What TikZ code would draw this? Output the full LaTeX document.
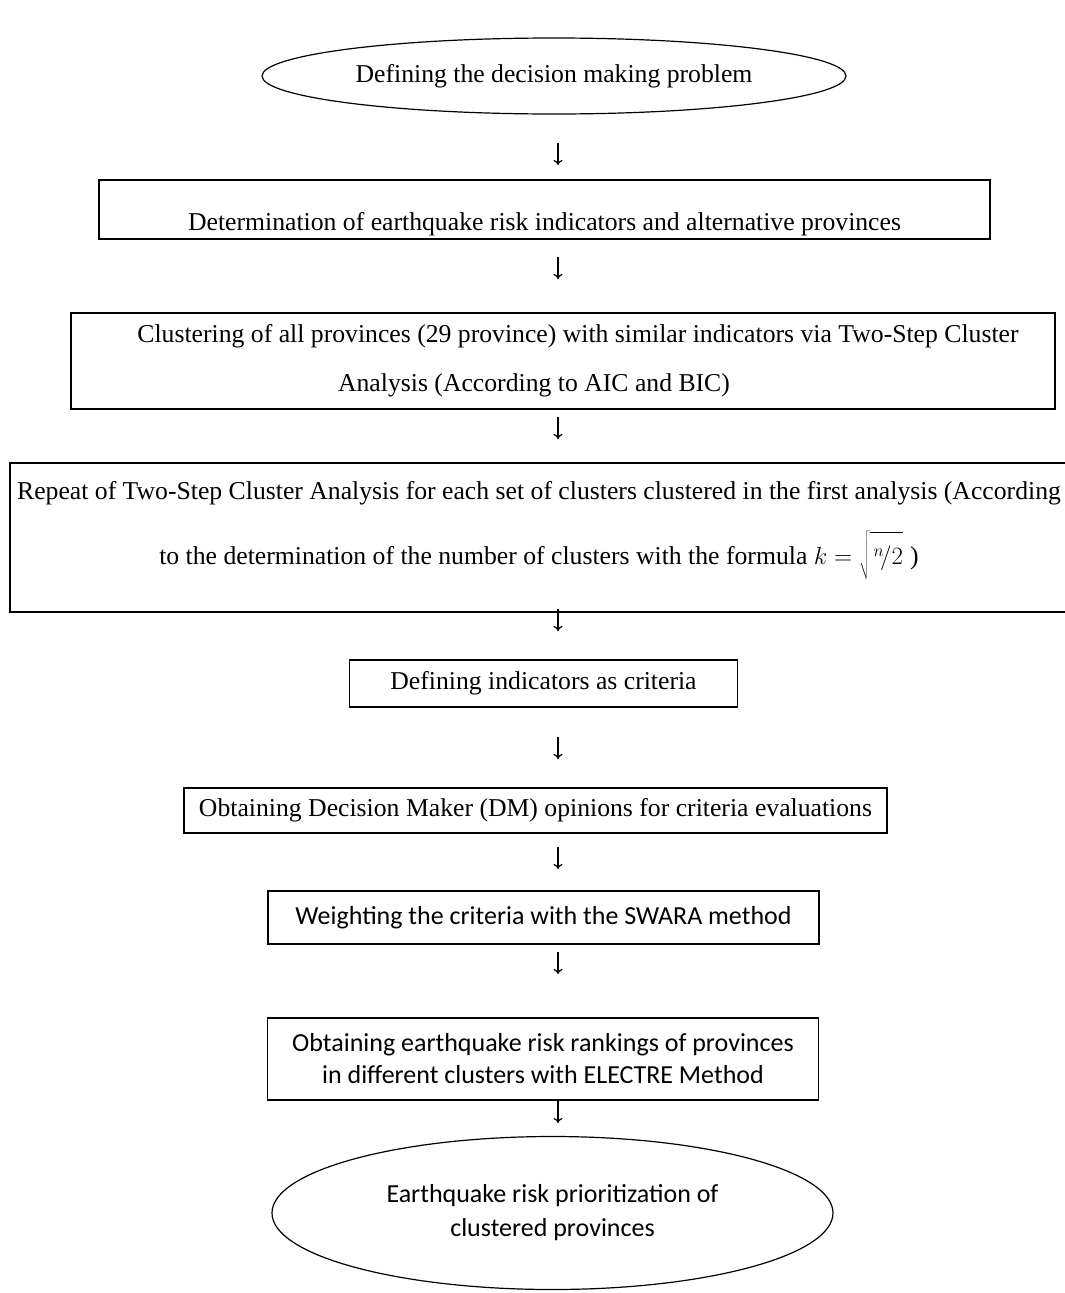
\documentclass[tikz,border=0pt]{standalone}
\usepackage{fontspec}
\setmainfont{Liberation Serif}
\newfontfamily\calibrifont{Carlito}
\usetikzlibrary{shapes.geometric}
\usetikzlibrary{arrows.meta}

\tikzset{
  stepbox/.style={draw,rectangle,line width=1.3pt,inner sep=0pt,align=center,font=\fontsize{25.7}{30}\selectfont},
  stepoval/.style={draw,ellipse,line width=1.2pt,inner sep=0pt,align=center},
  flowarrow/.style={line width=1.2pt,-{To[length=5pt,width=9pt]}}
}

\begin{document}
\begin{tikzpicture}[x=1pt,y=-1pt]
\useasboundingbox (0,0) rectangle (1065,1293);
\node[stepoval,minimum width=584pt,minimum height=76pt,font=\fontsize{25.7}{30}\selectfont] (problem) at (554,76) {Defining the decision making problem};
\node[stepbox,minimum width=891pt,minimum height=59pt,text height=47pt,text depth=6pt] (indicators) at (544.5,209.5) {Determination of earthquake risk indicators and alternative provinces};
\node[stepbox,minimum width=984pt,minimum height=96pt,font=\fontsize{25.7}{49}\selectfont] (cluster) at (563,361) {\hspace*{30pt}Clustering of all provinces (29 province) with similar indicators via Two-Step Cluster\\Analysis (According to AIC and BIC)\hspace*{58pt}};
\node[stepbox,minimum width=1058pt,minimum height=149pt,font=\fontsize{25.7}{65}\selectfont,text height=60pt,text depth=7pt] (repeat) at (539,537.5) {Repeat of Two-Step Cluster Analysis for each set of clusters clustered in the first analysis (According\\to the determination of the number of clusters with the formula $k=\sqrt{\rule[-14pt]{0pt}{44pt}\,{}^{n}\!/2}$\;)};
\node[stepbox,minimum width=388pt,minimum height=47pt] (criteria) at (543.5,683.5) {Defining indicators as criteria};
\node[stepbox,minimum width=703pt,minimum height=45pt] (opinions) at (535.5,810.5) {Obtaining Decision Maker (DM) opinions for criteria evaluations};
\node[stepbox,minimum width=551pt,minimum height=53pt,font=\calibrifont\fontsize{26}{32}\selectfont] (swara) at (543.5,917.5) {Weighting the criteria with the SWARA method};
\node[stepbox,minimum width=551pt,minimum height=82pt,font=\calibrifont\fontsize{26}{32}\selectfont] (electre) at (543,1059) {Obtaining earthquake risk rankings of provinces\\in different clusters with ELECTRE Method};
\node[stepoval,minimum width=561pt,minimum height=153pt,font=\calibrifont\fontsize{26}{34}\selectfont] (priority) at (552.5,1213) {Earthquake risk prioritization of\\clustered provinces};

\foreach \n/\ya/\yb in {1/143/165,2/257/279,3/417/439,4/609/631,5/737/759,6/847/869,7/952/974,8/1101/1123}{
  \coordinate (tail\n) at (558,\ya);
  \coordinate (head\n) at (558,\yb);
  \draw[flowarrow] (tail\n) -- (head\n);
}

\end{tikzpicture}
\end{document}
